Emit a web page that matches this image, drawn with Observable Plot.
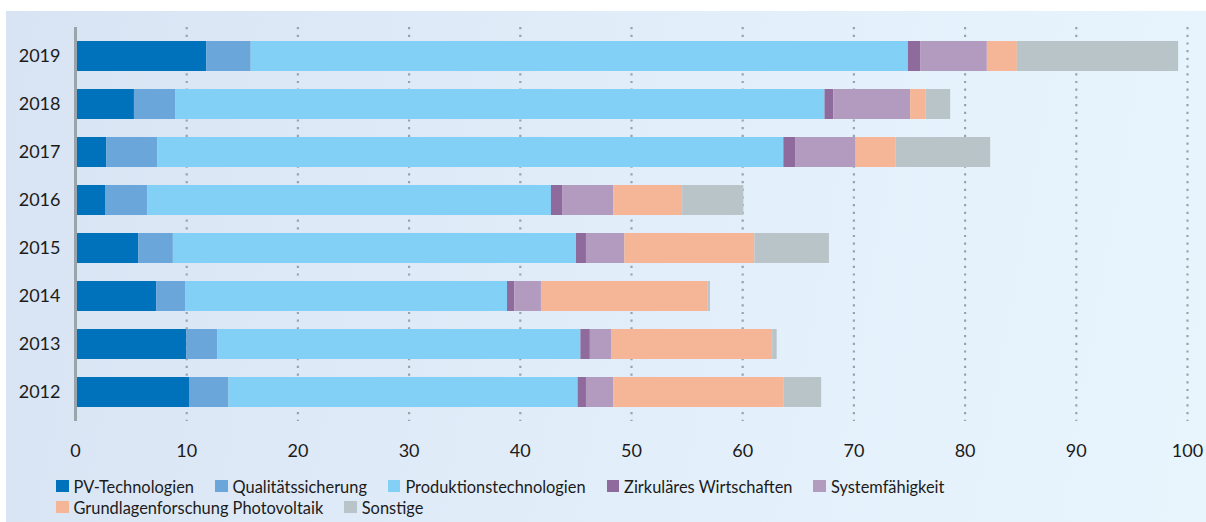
<!DOCTYPE html>
<html><head><meta charset="utf-8">
<script src="https://cdn.jsdelivr.net/npm/d3@7"></script>
<script src="https://cdn.jsdelivr.net/npm/@observablehq/plot@0.6"></script>
<style>
html,body{margin:0;padding:0;background:#fff;width:1206px;height:522px;overflow:hidden;}
#panel{position:absolute;left:6px;top:11px;width:1200px;height:511px;background:linear-gradient(100deg,#d8e4f3 0%,#e1edf9 50%,#e9f5fd 100%);font-family:Lato,sans-serif;}
#chart{position:absolute;left:0;top:0;}
#legend{position:absolute;left:50px;top:464.5px;}
.row{display:flex;gap:21px;height:21px;align-items:center;}
.item{display:flex;align-items:center;gap:5px;font-size:16.4px;color:#1b1b1b;white-space:nowrap;}
.sw{width:12.5px;height:12.5px;flex:none;}
</style></head>
<body>
<div id="panel"><div id="chart"></div><div id="legend"></div></div>
<script>
const years = ["2019","2018","2017","2016","2015","2014","2013","2012"];
const seriesNames = ["PV-Technologien","Qualitätssicherung","Produktionstechnologien","Zirkuläres Wirtschaften","Systemfähigkeit","Grundlagenforschung Photovoltaik","Sonstige"];
const seriesColors = ["#0072bc","#6aa6d9","#82d0f5","#8f6b9d","#b39bc0","#f4b697","#b8c4c8"];
// values per series, in order of years (2019 ... 2012)
const pvTechnologien        = [11.8, 5.3, 2.8, 2.7, 5.7, 7.3, 10.0, 10.3];
const qualitaetssicherung   = [4.0, 3.7, 4.6, 3.8, 3.1, 2.6, 2.8, 3.5];
const produktionstechnologien = [59.1, 58.4, 56.3, 36.3, 36.25, 28.95, 32.65, 31.4];
const zirkulaeresWirtschaften = [1.1, 0.8, 1.1, 1.0, 0.9, 0.65, 0.85, 0.75];
const systemfaehigkeit      = [6.0, 6.9, 5.4, 4.6, 3.45, 2.4, 1.9, 2.45];
const grundlagenforschung   = [2.7, 1.4, 3.6, 6.2, 11.7, 15.0, 14.5, 15.3];
const sonstige              = [14.5, 2.2, 8.5, 5.5, 6.7, 0.2, 0.4, 3.4];
const xTicks = [0,10,20,30,40,50,60,70,80,90,100];

const seriesValues = [pvTechnologien, qualitaetssicherung, produktionstechnologien, zirkulaeresWirtschaften, systemfaehigkeit, grundlagenforschung, sonstige];
const rows = [];
seriesNames.forEach((s, i) => years.forEach((y, j) => rows.push({year: y, series: s, value: seriesValues[i][j]})));

const plot = Plot.plot({
  width: 1200,
  height: 460,
  marginLeft: 69,
  marginRight: 19,
  marginTop: 9.5,
  marginBottom: 43.5,
  style: {fontFamily: "Lato, sans-serif", fontSize: "18px", color: "#1b1b1b", background: "transparent"},
  x: {domain: [0, 100], ticks: xTicks},
  y: {domain: years, padding: 0.38},
  color: {domain: seriesNames, range: seriesColors},
  marks: [
    Plot.gridX(xTicks.filter(d => d > 0), {stroke: "#9aa3aa", strokeOpacity: 1, strokeWidth: 2.2, strokeDasharray: "2.2 5.5", insetTop: 6.5, insetBottom: 6.5}),
    Plot.barX(rows, Plot.stackX({y: "year", x: "value", fill: "series", order: null})),
    Plot.ruleX([0], {stroke: "#9aa5ab", strokeWidth: 3, insetTop: 6.5, insetBottom: 6.5}),
    Plot.axisY({tickSize: 0, tickPadding: 15, label: null, fontSize: 18}),
    Plot.axisX({ticks: xTicks, tickSize: 0, tickPadding: 16, label: null, fontSize: 18})
  ]
});
document.getElementById("chart").appendChild(plot);

const legend = document.getElementById("legend");
const rowSplit = [[0,1,2,3,4],[5,6]];
rowSplit.forEach(idx => {
  const r = document.createElement("div");
  r.className = "row";
  idx.forEach(i => {
    const it = document.createElement("div");
    it.className = "item";
    const sw = document.createElement("span");
    sw.className = "sw";
    sw.style.background = seriesColors[i];
    const t = document.createElement("span");
    t.textContent = seriesNames[i];
    it.appendChild(sw); it.appendChild(t);
    r.appendChild(it);
  });
  legend.appendChild(r);
});
</script>
</body></html>
